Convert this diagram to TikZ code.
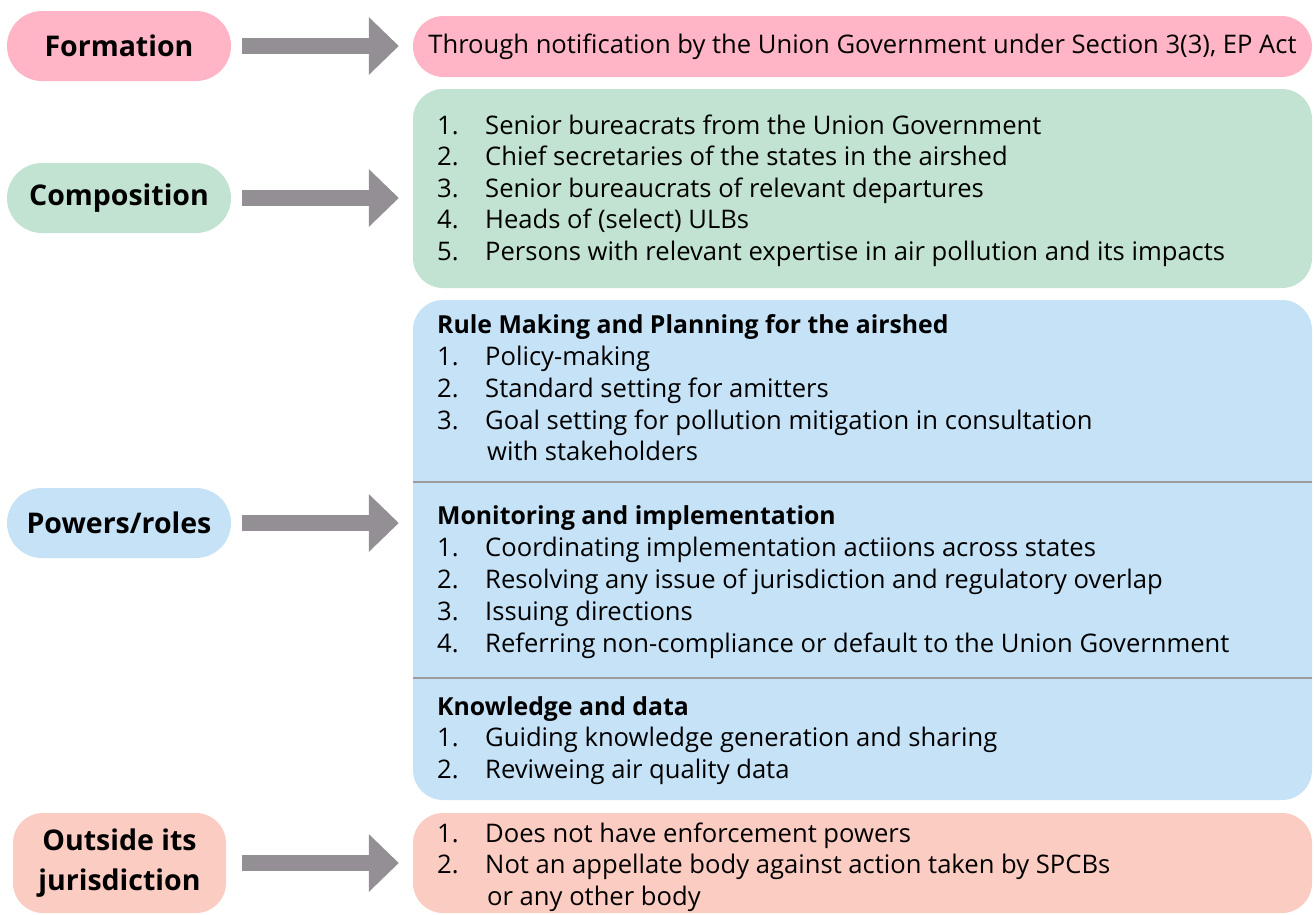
\documentclass[tikz,border=0pt]{standalone}
\usepackage{fontspec}
\setmainfont{Open Sans}
\usetikzlibrary{arrows.meta}
\definecolor{formPink}{HTML}{FFB5C5}
\definecolor{compGreen}{HTML}{C2E3D1}
\definecolor{powBlue}{HTML}{C5E2F6}
\definecolor{outSalmon}{HTML}{FBCCC2}
\definecolor{arrowGray}{HTML}{938F94}
\definecolor{ruleGray}{HTML}{9B9A9F}

\begin{document}
\begin{tikzpicture}[x = 1pt, y = -1pt]
	\tikzstyle{headStyle} = [shape = rectangle, minimum width = 224pt, minimum height = 70pt, rounded corners = 35pt, inner sep = 0pt, align = center, font = \fontsize{28.5}{40}\selectfont\bfseries]
	\tikzstyle{boxStyle} = [shape = rectangle, minimum width = 899pt, rounded corners = 30pt, inner sep = 0pt, font = \fontsize{25.6}{30}\selectfont]
	\tikzstyle{lineStyle} = [anchor = base west, inner sep = 0pt, font = \fontsize{25.6}{30}\selectfont]
	\tikzstyle{titleStyle} = [lineStyle, font = \fontsize{24.8}{30}\selectfont\bfseries]
	\tikzstyle{ArrowStyle} = [draw = arrowGray, line width = 16pt, -{Triangle[length = 30pt, width = 56pt]}, shorten < = 11pt, shorten > = 14pt]
	\useasboundingbox (0, 0) rectangle (1314, 914);
	% left column
	\node[headStyle, fill = formPink] (formHead) at (119, 46) {Formation};
	\node[headStyle, fill = compGreen] (compHead) at (119, 198) {Composition};
	\node[headStyle, fill = powBlue] (powHead) at (119, 523) {Powers/roles};
	\node[headStyle, fill = outSalmon, minimum width = 213pt, minimum height = 100pt, rounded corners = 30pt] (outHead) at (119.5, 863) {Outside its\\jurisdiction};
	% right column
	\node[boxStyle, fill = formPink, minimum height = 61pt, rounded corners = 30.5pt] (formBox) at (862.5, 46.5) {Through notification by the Union Government under Section 3(3), EP Act};
	\node[boxStyle, fill = compGreen, minimum height = 199pt] (compBox) at (862.5, 188.5) {};
	\node[boxStyle, fill = powBlue, minimum height = 500pt] (powBox) at (862.5, 550) {};
	\node[boxStyle, fill = outSalmon, minimum height = 100pt] (outBox) at (862.5, 863) {};
	\draw[ruleGray, line width = 2pt] (powBox.west |- 0, 482) coordinate (ruleA) -- (powBox.east |- ruleA);
	\draw[ruleGray, line width = 2pt] (powBox.west |- 0, 678) coordinate (ruleB) -- (powBox.east |- ruleB);
	% composition
	\node[lineStyle] (c1) at (437, 134) {\makebox[48pt][l]{1.}Senior bureacrats from the Union Government};
	\node[lineStyle] (c2) at (437, 165.5) {\makebox[48pt][l]{2.}Chief secretaries of the states in the airshed};
	\node[lineStyle] (c3) at (437, 197) {\makebox[48pt][l]{3.}Senior bureaucrats of relevant departures};
	\node[lineStyle] (c4) at (437, 228.5) {\makebox[48pt][l]{4.}Heads of (select) ULBs};
	\node[lineStyle] (c5) at (437, 260) {\makebox[48pt][l]{5.}Persons with relevant expertise in air pollution and its impacts};
	% powers/roles
	\node[titleStyle] (r0) at (437, 333) {Rule Making and Planning for the airshed};
	\node[lineStyle] (r1) at (437, 365) {\makebox[48pt][l]{1.}Policy-making};
	\node[lineStyle] (r2) at (437, 397) {\makebox[48pt][l]{2.}Standard setting for amitters};
	\node[lineStyle] (r3) at (437, 429) {\makebox[48pt][l]{3.}Goal setting for pollution mitigation in consultation};
	\node[lineStyle] (r4) at (487, 460) {with stakeholders};
	\node[titleStyle] (m0) at (437, 524) {Monitoring and implementation};
	\node[lineStyle] (m1) at (437, 556) {\makebox[48pt][l]{1.}Coordinating implementation actiions across states};
	\node[lineStyle] (m2) at (437, 588) {\makebox[48pt][l]{2.}Resolving any issue of jurisdiction and regulatory overlap};
	\node[lineStyle] (m3) at (437, 620) {\makebox[48pt][l]{3.}Issuing directions};
	\node[lineStyle] (m4) at (437, 652) {\makebox[48pt][l]{4.}Referring non-compliance or default to the Union Government};
	\node[titleStyle] (k0) at (437, 715) {Knowledge and data};
	\node[lineStyle] (k1) at (437, 746) {\makebox[48pt][l]{1.}Guiding knowledge generation and sharing};
	\node[lineStyle] (k2) at (437, 778) {\makebox[48pt][l]{2.}Reviweing air quality data};
	% outside its jurisdiction
	\node[lineStyle] (o1) at (437, 842) {\makebox[48pt][l]{1.}Does not have enforcement powers};
	\node[lineStyle] (o2) at (437, 873) {\makebox[48pt][l]{2.}Not an appellate body against action taken by SPCBs};
	\node[lineStyle] (o3) at (487, 905) {or any other body};
	% arrows
	\draw[ArrowStyle] (formHead.east) -- (formHead.east -| formBox.west);
	\draw[ArrowStyle] (compHead.east) -- (compHead.east -| compBox.west);
	\draw[ArrowStyle] (powHead.east) -- (powHead.east -| powBox.west);
	\draw[ArrowStyle, shorten < = 16pt] (outHead.east) -- (outHead.east -| outBox.west);
\end{tikzpicture}
\end{document}
